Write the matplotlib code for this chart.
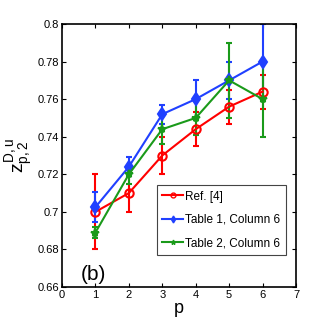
import numpy as np
import matplotlib
matplotlib.use("Agg")
import matplotlib.pyplot as plt

plt.rcParams["font.family"] = ["Liberation Sans", "DejaVu Sans"]
plt.rcParams["mathtext.fontset"] = "custom"
plt.rcParams["mathtext.rm"] = "Liberation Sans"
plt.rcParams["mathtext.it"] = "Liberation Sans"

p = [1, 2, 3, 4, 5, 6]

ref_val = [0.700, 0.710, 0.730, 0.744, 0.756, 0.764]
ref_err = [0.020, 0.010, 0.010, 0.009, 0.009, 0.009]

t1_val = [0.7025, 0.724, 0.752, 0.760, 0.770, 0.780]
t1_err = [0.008, 0.005, 0.005, 0.010, 0.010, 0.020]

t2_val = [0.689, 0.720, 0.744, 0.750, 0.770, 0.760]
t2_err = [0.003, 0.005, 0.008, 0.009, 0.020, 0.020]

labels = ["Ref. [4]", "Table 1, Column 6", "Table 2, Column 6"]
colors = ["#ff0000", "#2040ff", "#1a9a1a"]
markers = ["o", "d", "*"]

fig = plt.figure(figsize=(3.27, 3.27), dpi=100)
ax = fig.add_axes([62 / 327, 40 / 327, 234 / 327, 263 / 327])

handles = []
for vals, errs, c, m, lab in zip([ref_val, t1_val, t2_val], [ref_err, t1_err, t2_err],
                                 colors, markers, labels):
    mfc = "none" if m == "o" else c
    ax.errorbar(p, vals, yerr=errs, color=c, marker=m, ms=6, mfc=mfc, mew=1.5,
                lw=1.5, capsize=2)
    h, = ax.plot([], [], color=c, marker=m, ms=3.5, mfc=mfc, mew=1, lw=1.5, label=lab)
    handles.append(h)

ax.set_xlim(0, 7)
ax.set_ylim(0.66, 0.8)
ax.set_xticks(range(0, 8))
ax.set_yticks([0.66, 0.68, 0.7, 0.72, 0.74, 0.76, 0.78, 0.8])
ax.set_yticklabels(["0.66", "0.68", "0.7", "0.72", "0.74", "0.76", "0.78", "0.8"])
ax.tick_params(direction="in", top=True, right=True, labelsize=8, length=3, pad=2)
for s in ax.spines.values():
    s.set_linewidth(1.2)

ax.set_xlabel("p", fontsize=13, labelpad=0)
ax.set_ylabel(r"$z^{D,u}_{p,2}$", fontsize=14, labelpad=2)

ax.text(0.55, 0.6635, "(b)", fontsize=15)

leg = ax.legend(handles=handles, loc="lower right", bbox_to_anchor=(0.957, 0.122),
                fontsize=8.5, handlelength=1.7, handletextpad=0.2,
                borderpad=0.5, labelspacing=0.95, fancybox=False, framealpha=1,
                borderaxespad=0)
leg.get_frame().set_edgecolor("#444444")
leg.get_frame().set_linewidth(0.8)

fig.savefig("out.png", dpi=100)
